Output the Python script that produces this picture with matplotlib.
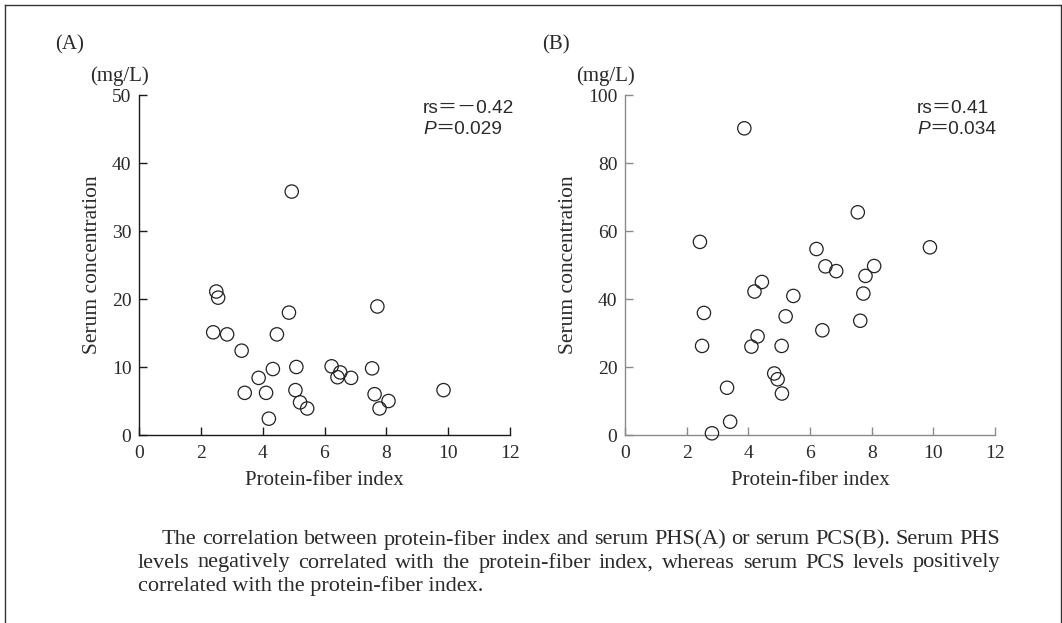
import matplotlib
matplotlib.use("Agg")
import matplotlib.pyplot as plt
from matplotlib.lines import Line2D

# ---------------- data ----------------
x_ticks = [0, 2, 4, 6, 8, 10, 12]
phs_yticks = [0, 10, 20, 30, 40, 50]
pcs_yticks = [0, 20, 40, 60, 80, 100]

phs_x = [4.94, 2.50, 2.56, 4.85, 7.71, 2.40, 2.85, 4.46, 3.32, 4.33, 5.09, 6.23, 6.51, 6.42,
         6.86, 7.54, 3.87, 3.42, 4.11, 5.06, 5.21, 5.44, 4.20, 7.62, 7.78, 8.07, 9.85]
phs_y = [35.8, 21.1, 20.2, 18.0, 18.9, 15.1, 14.8, 14.8, 12.4, 9.7, 10.0, 10.1, 9.2, 8.5,
         8.4, 9.8, 8.4, 6.2, 6.2, 6.6, 4.8, 3.9, 2.4, 6.0, 3.9, 5.0, 6.6]

pcs_x = [3.87, 7.55, 2.43, 6.21, 9.89, 6.50, 6.85, 8.08, 7.80, 4.44, 4.20, 7.73, 5.46, 2.56,
         5.21, 7.63, 6.40, 4.30, 2.50, 4.10, 5.08, 4.84, 4.95, 5.09, 3.31, 3.41, 2.82]
pcs_y = [90.2, 65.5, 56.8, 54.7, 55.2, 49.6, 48.2, 49.7, 46.8, 45.0, 42.2, 41.6, 40.9, 35.9,
         34.9, 33.6, 30.8, 29.0, 26.2, 26.0, 26.2, 18.1, 16.4, 12.2, 13.9, 3.9, 0.5]

panel_labels = ["(A)", "(B)"]
unit_label = "(mg/L)"
x_label = "Protein-fiber index"
y_label = "Serum concentration"
rs_texts = ["rs\uFF1D\uFF0D0.42", "rs\uFF1D0.41"]
p_texts = ["\uFF1D0.029", "\uFF1D0.034"]
caption_lines = [
    "The correlation between protein-fiber index and serum PHS(A) or serum PCS(B). Serum PHS",
    "levels negatively correlated with the protein-fiber index, whereas serum PCS levels positively",
    "correlated with the protein-fiber index.",
]

# ---------------- figure ----------------
W, H = 1062, 623
fig = plt.figure(figsize=(W / 100, H / 100), dpi=100)
fig.patch.set_facecolor("white")

SERIF = ["Liberation Serif", "DejaVu Serif"]
SANS = ["Liberation Sans", "Noto Sans CJK JP", "DejaVu Sans"]
TXT = "#2a2a2a"


def fx(x):
    return x / W


def fy(y):
    return 1 - y / H


# outer frame (left, top, right)
for (x0, y0, x1, y1) in [(5, 5, 5, 623), (5, 5, 1061, 5), (1061, 5, 1061, 623)]:
    fig.add_artist(Line2D([fx(x0), fx(x1)], [fy(y0), fy(y1)], color="#333333", lw=1.0,
                          transform=fig.transFigure))

panels = [
    dict(left=139, right=510, xs=phs_x, ys=phs_y, yticks=phs_yticks, ymax=50,
         spine="#1a1a1a", lab_x=55, unit_x=90, rs_x=423),
    dict(left=625, right=995, xs=pcs_x, ys=pcs_y, yticks=pcs_yticks, ymax=100,
         spine="#8a8a8a", lab_x=542, unit_x=576, rs_x=917),
]
top, bottom = 95, 435

for i, p in enumerate(panels):
    ax = fig.add_axes([fx(p["left"]), fy(bottom), (p["right"] - p["left"]) / W, (bottom - top) / H])
    ax.scatter(p["xs"], p["ys"], s=92, facecolors="none", edgecolors="#222222",
               linewidths=0.9, clip_on=False, zorder=3)
    ax.set_xlim(0, 12)
    ax.set_ylim(0, p["ymax"])
    ax.set_xticks(x_ticks)
    ax.set_yticks(p["yticks"])
    for s in ["top", "right"]:
        ax.spines[s].set_visible(False)
    for s in ["left", "bottom"]:
        ax.spines[s].set_color(p["spine"])
        ax.spines[s].set_linewidth(1.0)
    ax.tick_params(axis="both", direction="in", length=5.5, width=1.0, color=p["spine"],
                   labelsize=14, labelcolor=TXT)
    ax.tick_params(axis="x", pad=7)
    ax.tick_params(axis="y", pad=5.5)
    for lab in ax.get_xticklabels() + ax.get_yticklabels():
        lab.set_fontfamily(SERIF)
    ax.set_xlabel(x_label, fontsize=15, family=SERIF, color=TXT, labelpad=7)
    ax.set_ylabel(y_label, fontsize=15.5, family=SERIF, color=TXT, labelpad=7)

    # panel letter and unit
    fig.text(fx(p["lab_x"]), fy(45), panel_labels[i], fontsize=15, family=SERIF, color=TXT,
             ha="left", va="center")
    fig.text(fx(p["unit_x"]), fy(76), unit_label, fontsize=15, family=SERIF, color=TXT,
             ha="left", va="center")

    # statistics
    fig.text(fx(p["rs_x"]), fy(113), rs_texts[i], fontsize=13.8, family=SANS, color=TXT,
             ha="left", va="baseline")
    pt = fig.text(fx(p["rs_x"]), fy(134), "P", fontsize=13.8, family=SANS, style="italic",
                  color=TXT, ha="left", va="baseline")
    ax.annotate(p_texts[i], xy=(1, 0), xycoords=pt, fontsize=13.8, family=SANS, color=TXT,
                ha="left", va="bottom", annotation_clip=False)

# caption (justified first two lines)
fig.canvas.draw()
renderer = fig.canvas.get_renderer()
right_edge = 1000
cap_lines_pos = [(162, 540, True), (138, 563, True), (138, 586, False)]

# choose a font size so the second line fits its measured width naturally
probe = fig.text(0, 0, caption_lines[1], fontsize=10, family=SERIF)
w10 = probe.get_window_extent(renderer).width
probe.remove()
cap_fs = min(16.0, 10 * (right_edge - 138) / w10 * 0.985)

for line, (x0, y0, justify) in zip(caption_lines, cap_lines_pos):
    if not justify:
        fig.text(fx(x0), fy(y0), line, fontsize=cap_fs, family=SERIF, color=TXT,
                 ha="left", va="center")
        continue
    words = line.split(" ")
    widths = []
    arts = []
    for w in words:
        t = fig.text(0, 0, w, fontsize=cap_fs, family=SERIF, color=TXT, ha="left", va="center")
        widths.append(t.get_window_extent(renderer).width)
        arts.append(t)
    gap = (right_edge - x0 - sum(widths)) / (len(words) - 1)
    x = x0
    for t, wd in zip(arts, widths):
        t.set_position((fx(x), fy(y0)))
        x += wd + gap

fig.savefig("out.png", dpi=100, facecolor="white")
